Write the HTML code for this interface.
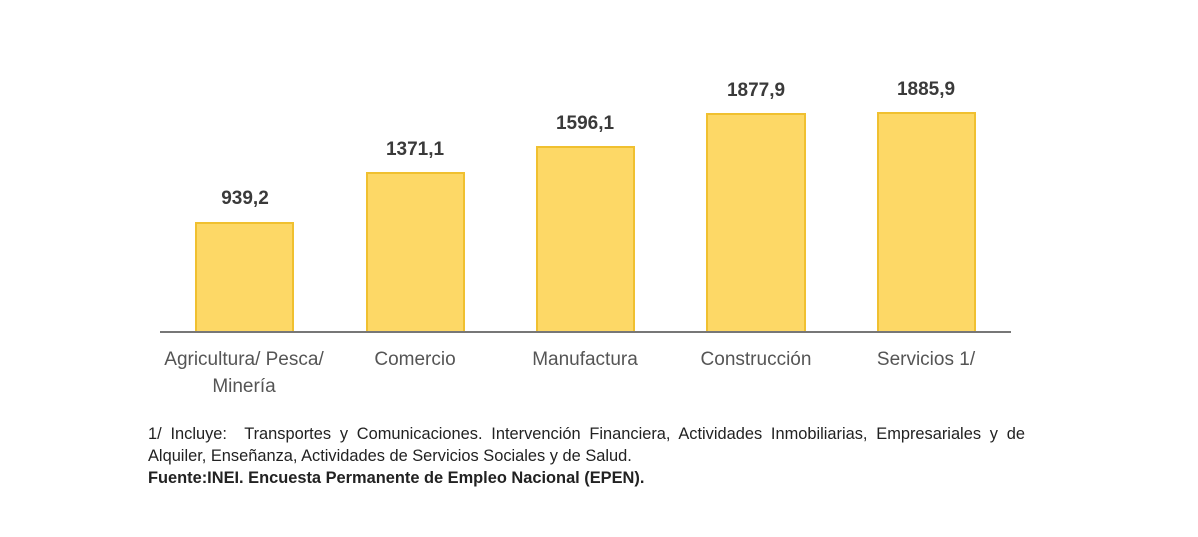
<!DOCTYPE html>
<html><head><meta charset="utf-8"><style>
body{margin:0;width:1198px;height:537px;background:#fff;position:relative;overflow:hidden;font-family:"Liberation Sans",Arial,sans-serif}
.b{position:absolute;background:#FDD866;border:2px solid #F0C030;border-bottom:none;box-sizing:border-box}
.v{position:absolute;width:160px;text-align:center;font-weight:bold;font-size:19px;color:#3a3a3a}
.l{position:absolute;width:220px;text-align:center;font-size:19px;color:#555;line-height:27px}
.f{position:absolute;left:148px;width:877px;font-size:16.4px;color:#222;line-height:22px}
</style></head><body>
<div class="b" style="left:195px;top:222px;width:99px;height:110px"></div>
<div class="b" style="left:366px;top:172px;width:99px;height:160px"></div>
<div class="b" style="left:536px;top:146px;width:99px;height:186px"></div>
<div class="b" style="left:706px;top:113px;width:100px;height:219px"></div>
<div class="b" style="left:877px;top:112px;width:99px;height:220px"></div>
<div style="position:absolute;left:160px;top:331px;width:851px;height:2px;background:#777"></div>
<div class="v" style="left:165px;top:188px">939,2</div>
<div class="v" style="left:335px;top:139px">1371,1</div>
<div class="v" style="left:505px;top:113px">1596,1</div>
<div class="v" style="left:676px;top:80px">1877,9</div>
<div class="v" style="left:846px;top:79px">1885,9</div>
<div class="l" style="left:134px;top:346px">Agricultura/ Pesca/<br>Minería</div>
<div class="l" style="left:305px;top:346px">Comercio</div>
<div class="l" style="left:475px;top:346px">Manufactura</div>
<div class="l" style="left:646px;top:346px">Construcción</div>
<div class="l" style="left:816px;top:346px">Servicios 1/</div>
<div class="f" style="top:423px;text-align:justify;text-align-last:justify;white-space:nowrap;overflow:hidden">1/ Incluye:&nbsp; Transportes y Comunicaciones. Intervención Financiera, Actividades Inmobiliarias, Empresariales y de</div>
<div class="f" style="top:445px">Alquiler, Enseñanza, Actividades de Servicios Sociales y de Salud.</div>
<div class="f" style="top:467px;font-weight:bold">Fuente:INEI. Encuesta Permanente de Empleo Nacional (EPEN).</div>
</body></html>
